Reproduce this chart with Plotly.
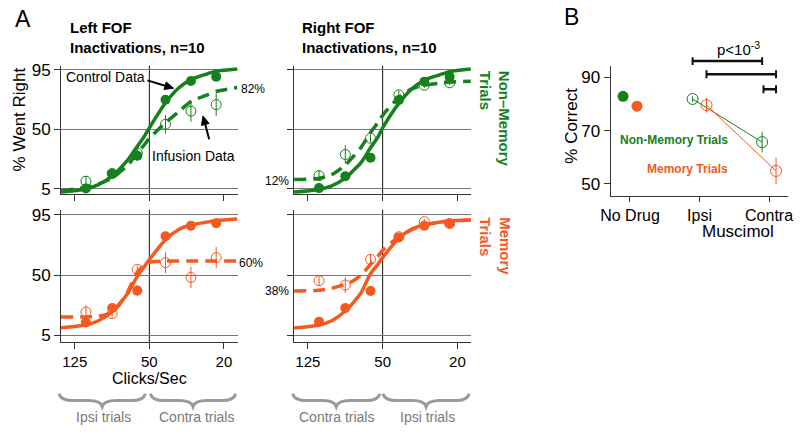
import math
import plotly.graph_objects as go

# ---------------- data ----------------
bin_clicks = [109, 79, 58, 41, 30, 22]
fit_clicks = [148, 110, 94, 79, 72, 65, 58, 53, 50, 41, 35, 30, 25, 22, 17]
x_tick_vals = [125, 50, 20]
x_tick_text = ["125", "50", "20"]
y_tick_vals = [5, 50, 95]

# Left FOF, non-memory
lnm_ctrl_pts = [5.3, 16.4, 30.0, 72.3, 86.4, 89.6]
lnm_ctrl_err = [1.5, 2.0, 4.0, 2.0, 1.5, 1.5]
lnm_inf_pts = [10.7, 16.5, 32.0, 53.8, 63.7, 68.6]
lnm_inf_err = [4.0, 3.0, 3.0, 7.0, 8.0, 8.5]
lnm_ctrl_fit = [2.5, 4.8, 8, 14.5, 20, 27, 37, 45, 51, 70, 81, 87.5, 91.5, 93.8, 95.5]
lnm_inf_fit = [3.5, 6, 8.5, 13, 17.5, 23, 32, 38.5, 43, 55, 63, 71, 75.5, 78.5, 81.5]

# Right FOF, non-memory
rnm_ctrl_pts = [5.5, 14.4, 28.4, 72.1, 85.9, 89.6]
rnm_ctrl_err = [1.5, 2.0, 2.5, 2.0, 1.5, 1.5]
rnm_inf_pts = [14.9, 30.9, 43.2, 76.0, 83.2, 85.1]
rnm_inf_err = [4.0, 7.0, 3.0, 3.0, 2.0, 2.0]
rnm_ctrl_fit = [2.5, 4.5, 7, 13, 18.5, 25, 36, 44, 51, 69.5, 80.5, 87, 91, 93.5, 95.5]
rnm_inf_fit = [12, 12.8, 15.5, 23, 29, 36.5, 47.5, 55, 60.5, 74, 80.5, 83.3, 84.8, 85.6, 86.3]

# Left FOF, memory
lm_ctrl_pts = [14.4, 25.2, 38.3, 79.0, 86.9, 88.8]
lm_ctrl_err = [2.0, 2.0, 4.0, 2.0, 1.5, 1.5]
lm_inf_pts = [22.3, 21.0, 54.3, 59.3, 48.2, 63.0]
lm_inf_err = [5.0, 3.0, 3.0, 8.0, 8.0, 8.0]
lm_ctrl_fit = [10.5, 12.5, 15.5, 22.5, 28.5, 36.5, 49, 56.5, 61.5, 76.5, 84, 87.5, 89.5, 90.8, 92]
lm_inf_fit = [18.6, 18.6, 19.2, 22, 28, 38, 52, 57.5, 59.5, 60.4, 60.5, 60.5, 60.5, 60.5, 60.5]

# Right FOF, memory
rm_ctrl_pts = [14.9, 25.2, 38.0, 78.2, 86.9, 88.8]
rm_ctrl_err = [2.0, 2.0, 2.5, 2.0, 1.5, 1.5]
rm_inf_pts = [45.7, 42.5, 61.7, 78.7, 90.0, 88.5]
rm_inf_err = [4.0, 6.0, 4.0, 2.0, 2.0, 2.0]
rm_ctrl_fit = [10.3, 12.3, 15.5, 23, 29, 37, 51, 58, 63, 77.5, 84.5, 87.5, 89.5, 90.5, 91.5]
rm_inf_fit = [38, 38.5, 40, 43, 45.5, 50, 58, 64, 68.5, 78.5, 84, 87.5, 89.5, 90.5, 91.2]

# Panel B
conditions = ["No Drug", "Ipsi", "Contra"]
nm_correct = [82.9, 81.9, 65.7]
nm_err = [0.0, 1.0, 3.9]
mem_correct = [79.2, 79.6, 54.9]
mem_err = [0.0, 2.8, 5.0]
b_tick_vals = [50, 70, 90]

# ---------------- style ----------------
W, H = 800, 432
GREEN = "#15801c"
ORANGE = "#f5591e"
FONT = "Liberation Sans, Arial, Helvetica, sans-serif"
AXC = "#333333"
GRIDC = "#777777"
BRACE = "#9a9a9a"


def px(x):
    return x / W


def py(y):
    return 1 - y / H


fig = go.Figure()

panels = [
    ("x", "y", GREEN, lnm_ctrl_fit, lnm_inf_fit, lnm_ctrl_pts, lnm_ctrl_err, lnm_inf_pts, lnm_inf_err),
    ("x2", "y2", GREEN, rnm_ctrl_fit, rnm_inf_fit, rnm_ctrl_pts, rnm_ctrl_err, rnm_inf_pts, rnm_inf_err),
    ("x3", "y3", ORANGE, lm_ctrl_fit, lm_inf_fit, lm_ctrl_pts, lm_ctrl_err, lm_inf_pts, lm_inf_err),
    ("x4", "y4", ORANGE, rm_ctrl_fit, rm_inf_fit, rm_ctrl_pts, rm_ctrl_err, rm_inf_pts, rm_inf_err),
]

for xa, ya, col, cfit, ifit, cp, ce, ip, ie in panels:
    fig.add_trace(go.Scatter(x=fit_clicks, y=cfit, mode="lines", xaxis=xa, yaxis=ya,
                             line=dict(color=col, width=3.5, shape="spline", smoothing=0.8),
                             hoverinfo="skip"))
    fig.add_trace(go.Scatter(x=fit_clicks, y=ifit, mode="lines", xaxis=xa, yaxis=ya,
                             line=dict(color=col, width=3.5, shape="spline", smoothing=0.8,
                                       dash="12px,7px"),
                             hoverinfo="skip"))
    fig.add_trace(go.Scatter(x=bin_clicks, y=ip, mode="markers", xaxis=xa, yaxis=ya,
                             marker=dict(symbol="circle-open", size=10, color=col,
                                         line=dict(width=1, color=col)),
                             error_y=dict(type="data", array=ie, color=col, thickness=1, width=0)))
    fig.add_trace(go.Scatter(x=bin_clicks, y=cp, mode="markers", xaxis=xa, yaxis=ya,
                             marker=dict(symbol="circle", size=10, color=col),
                             error_y=dict(type="data", array=ce, color=col, thickness=1, width=0)))

# Panel B
offs = [-0.1, 0.1]
for series, errs, col, off in [(nm_correct, nm_err, GREEN, offs[0]), (mem_correct, mem_err, ORANGE, offs[1])]:
    xs = [i + off for i in range(len(conditions))]
    fig.add_trace(go.Scatter(x=xs[1:], y=series[1:], mode="lines+markers", xaxis="x5", yaxis="y5",
                             line=dict(color=col, width=1),
                             marker=dict(symbol="circle-open", size=11, color=col, line=dict(width=1, color=col)),
                             error_y=dict(type="data", array=errs[1:], color=col, thickness=1, width=0)))
    fig.add_trace(go.Scatter(x=xs[:1], y=series[:1], mode="markers", xaxis="x5", yaxis="y5",
                             marker=dict(symbol="circle", size=11, color=col)))

# ---------------- axes ----------------
xr = [math.log10(148), math.log10(16.9)]


def xaxis(domain, labels, anchor):
    return dict(domain=domain, type="log", range=xr, anchor=anchor,
                tickvals=x_tick_vals, ticktext=x_tick_text, showticklabels=labels,
                ticks="outside", ticklen=6, tickcolor=AXC, showline=True, linecolor=AXC,
                linewidth=1, showgrid=False, zeroline=False,
                tickfont=dict(size=15, color="black", family=FONT))


def yaxis(domain, rng, labels, anchor):
    return dict(domain=domain, range=rng, anchor=anchor, tickvals=y_tick_vals,
                showticklabels=labels, ticks="outside", ticklen=6, tickcolor=AXC,
                showline=True, linecolor=AXC, linewidth=1, showgrid=True,
                gridcolor=GRIDC, gridwidth=1, zeroline=False,
                tickfont=dict(size=17, color="black", family=FONT))


xd1 = [px(52), px(232)]
xd2 = [px(289.5), px(470)]
ytop = [py(193.5), py(62)]
ybot = [py(344), py(209)]
rtop = [0.7, 98.0]
rbot = [-0.1, 99.0]

layout = dict(
    width=W, height=H, margin=dict(l=0, r=0, t=0, b=0),
    paper_bgcolor="white", plot_bgcolor="white", showlegend=False,
    font=dict(family=FONT, color="black"),
    xaxis=xaxis(xd1, False, "y"), yaxis=yaxis(ytop, rtop, True, "x"),
    xaxis2=xaxis(xd2, False, "y2"), yaxis2=yaxis(ytop, rtop, False, "x2"),
    xaxis3=xaxis(xd1, True, "y3"), yaxis3=yaxis(ybot, rbot, True, "x3"),
    xaxis4=xaxis(xd2, True, "y4"), yaxis4=yaxis(ybot, rbot, False, "x4"),
    xaxis5=dict(domain=[px(612), px(793)], range=[-0.28, 2.274], anchor="y5",
                tickvals=list(range(len(conditions))), ticktext=conditions,
                ticks="outside", ticklen=5, tickcolor=AXC, showline=True, linecolor=AXC,
                showgrid=False, zeroline=False, tickfont=dict(size=16, color="black", family=FONT)),
    yaxis5=dict(domain=[py(195), py(62)], range=[45.5, 94.4], anchor="x5",
                tickvals=b_tick_vals, ticks="outside", ticklen=6, tickcolor=AXC,
                showline=True, linecolor=AXC, showgrid=False, zeroline=False,
                tickfont=dict(size=17, color="black", family=FONT)),
)
fig.update_layout(**layout)

shapes = []
# vertical line at 50 clicks/sec in each psychometric panel
for xa, ya in [("x", "y"), ("x2", "y2"), ("x3", "y3"), ("x4", "y4")]:
    shapes.append(dict(type="line", xref=xa, yref=ya + " domain", x0=50, x1=50, y0=0, y1=1,
                       line=dict(color="#111111", width=1), layer="below"))


def brace(x0, x1, yt=397, yb=410):
    ym = (yt + yb) / 2 + 0.5
    xc = (x0 + x1) / 2
    d = 14
    pts = (f"M {px(x0)},{py(yt)} Q {px(x0+2)},{py(ym)} {px(x0+d)},{py(ym)} "
           f"L {px(xc-d)},{py(ym)} Q {px(xc-2)},{py(ym)} {px(xc)},{py(yb)} "
           f"Q {px(xc+2)},{py(ym)} {px(xc+d)},{py(ym)} "
           f"L {px(x1-d)},{py(ym)} Q {px(x1-2)},{py(ym)} {px(x1)},{py(yt)}")
    return dict(type="path", xref="paper", yref="paper", path=pts,
                line=dict(color=BRACE, width=3))


for a, b in [(50, 138), (143, 230), (288, 377), (380, 468)]:
    shapes.append(brace(a, b))

# significance bars in panel B
sig_bars = [((1 + offs[0]), (2 + offs[0]), 57.3), ((1 + offs[1]), (2 + offs[1]), 70.7),
            ((2 + offs[0]) + 0.02, (2 + offs[1]), 86.0)]
for a, b, yy in sig_bars:
    shapes.append(dict(type="line", xref="x5", yref="paper", x0=a, x1=b, y0=py(yy), y1=py(yy),
                       line=dict(color="#111111", width=2.5)))
    for e in (a, b):
        shapes.append(dict(type="line", xref="x5", yref="paper", x0=e, x1=e,
                           y0=py(yy - 4), y1=py(yy + 4), line=dict(color="#111111", width=2)))


# arrows (drawn as shapes: shaft + triangular head)
def arrow(hx, hy, tx, ty, L=9.0, w=4.0):
    dx, dy = hx - tx, hy - ty
    n = math.hypot(dx, dy)
    ux, uy = dx / n, dy / n
    bx, by = hx - ux * L, hy - uy * L
    nx, ny = -uy, ux
    out = [dict(type="line", xref="paper", yref="paper", x0=px(tx), y0=py(ty), x1=px(bx), y1=py(by),
                line=dict(color="black", width=2))]
    path = (f"M {px(hx)},{py(hy)} L {px(bx + nx * w)},{py(by + ny * w)} "
            f"L {px(bx - nx * w)},{py(by - ny * w)} Z")
    out.append(dict(type="path", xref="paper", yref="paper", path=path,
                    fillcolor="black", line=dict(color="black", width=1)))
    return out


shapes += arrow(166.7, 85, 140, 77)
shapes += arrow(196.7, 113.3, 203, 137)

fig.update_layout(shapes=shapes)

ann = []


def text(x, y, s, size=15, color="black", xanchor="center", yanchor="middle", **kw):
    ann.append(dict(x=px(x), y=py(y), xref="paper", yref="paper", text=s, showarrow=False,
                    xanchor=xanchor, yanchor=yanchor,
                    font=dict(size=size, color=color, family=FONT), **kw))


text(3, 14, "A", size=23, xanchor="left")
text(563, 12, "B", size=23, xanchor="left")
text(59, 33, "<b>Left FOF<br>Inactivations, n=10</b>", size=15, xanchor="left", align="left")
text(296, 33, "<b>Right FOF<br>Inactivations, n=10</b>", size=15, xanchor="left", align="left")
text(10, 117, "% Went Right", size=17, textangle=-90)
text(142, 381.5, "Clicks/Sec", size=16)
text(494, 116, "<b>Non\u2013Memory<br>Trials</b>", size=15, color=GREEN, textangle=90, align="left")
text(494, 246, "<b>Memory<br>Trials</b>", size=15, color=ORANGE, textangle=90, align="left")
text(233, 86, "82%", size=12, xanchor="left")
text(286, 180, "12%", size=12, xanchor="right")
text(231, 263.5, "60%", size=12, xanchor="left")
text(286, 292, "38%", size=12, xanchor="right")
text(97, 74, "Control Data", size=14)
text(187, 154, "Infusion Data", size=14)
text(95, 421, "Ipsi trials", size=14, color="#7a7a7a")
text(190, 421, "Contra trials", size=14, color="#7a7a7a")
text(333, 421, "Contra trials", size=14, color="#7a7a7a")
text(425, 421, "Ipsi trials", size=14, color="#7a7a7a")
# panel B text
text(572, 123, "% Correct", size=17, textangle=-90)
text(742, 231, "Muscimol", size=17)
text(742, 44, "p&lt;10<sup>-3</sup>", size=15)
text(677, 138, "<b>Non-Memory Trials</b>", size=12, color=GREEN)
text(690, 167, "<b>Memory Trials</b>", size=12, color=ORANGE)

fig.update_layout(annotations=ann)

fig.write_html("out.html", config={"displayModeBar": False},
               post_script="document.body.style.margin='0';document.body.style.overflow='hidden';")
